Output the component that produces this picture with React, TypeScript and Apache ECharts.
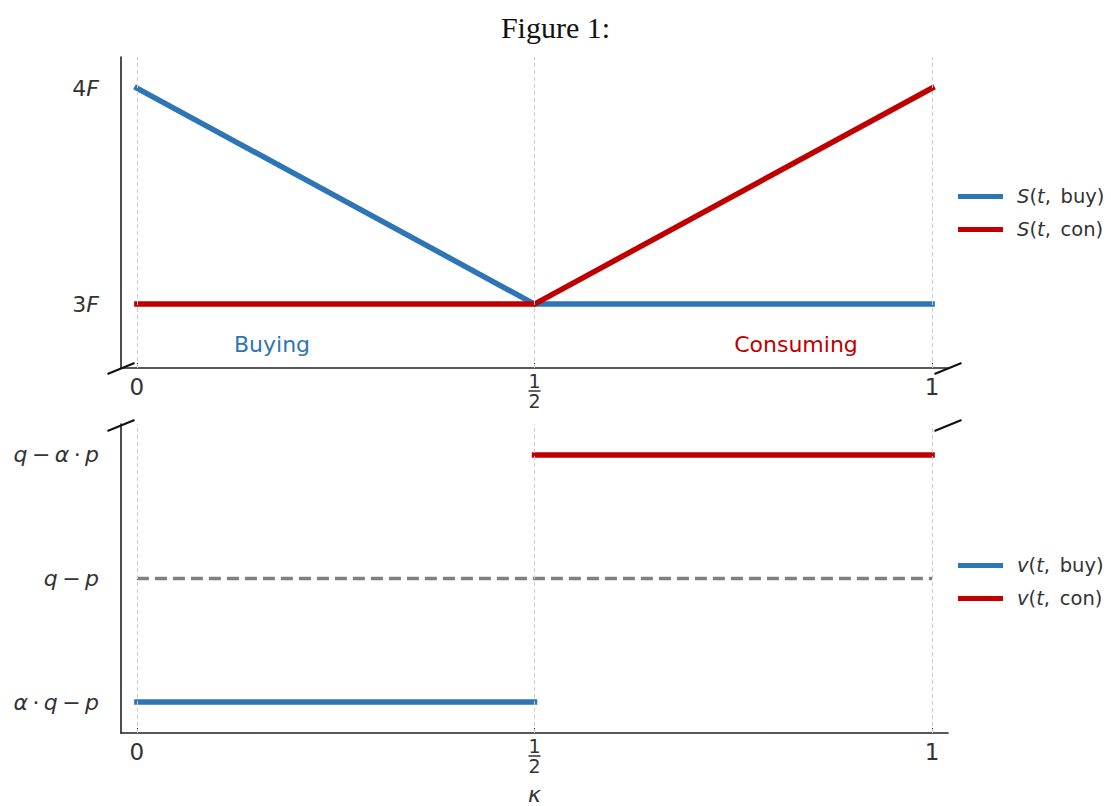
import React, { useEffect, useRef } from "react";
import * as echarts from "echarts";

// ---- data ----
const xTicks = [0, 0.5, 1];
const topYTicks = [3, 4];
const bottomYTicks = [0, 1, 2];
const topYLabels: Record<number, string> = { 3: "{r|3}{i|F}", 4: "{r|4}{i|F}" };
const bottomYLabels: Record<number, string> = {
  0: "{i|α}{r|\u2009·\u2009}{i|q}{r|\u2009−\u2009}{i|p}",
  1: "{i|q}{r|\u2009−\u2009}{i|p}",
  2: "{i|q}{r|\u2009−\u2009}{i|α}{r|\u2009·\u2009}{i|p}",
};
const sBuy = [[0, 4], [0.5, 3], [1, 3]];
const sCon = [[0, 3], [0.5, 3], [1, 4]];
const vBuy = [[0, 0], [0.5, 0]];
const vCon = [[0.5, 2], [1, 2]];
const vRef = [[0, 1], [1, 1]];
const legendLabels: Record<string, string> = {
  "S(t, buy)": "{i|S}(" + "{i|t},\u2002buy)",
  "S(t, con)": "{i|S}(" + "{i|t},\u2002con)",
  "v(t, buy)": "{i|v}(" + "{i|t},\u2002buy)",
  "v(t, con)": "{i|v}(" + "{i|t},\u2002con)",
};

const BLUE = "#2e75b6";
const RED = "#c00000";
const GRAY = "#808080";
const TXT = "#333333";
const FONT = "DejaVu Sans";

const L = 121, R = 948;
const T1 = 57, B1 = 368;
const T2 = 424, B2 = 737;

const xLabelFmt = (v: number) =>
  v === 0.5 ? "{n|1}\n{bar|}\n{n|2}" : "{m|" + v + "}";

const xLabelRich = {
  n: { fontSize: 19, lineHeight: 14, color: TXT, fontFamily: FONT, align: "center" },
  bar: { width: 12, height: 1.5, backgroundColor: TXT, lineHeight: 6, align: "center" },
  m: { fontSize: 23, lineHeight: 26, color: TXT, fontFamily: FONT },
};
const yRich = {
  i: { fontStyle: "italic", fontSize: 22, color: TXT, fontFamily: FONT },
  r: { fontSize: 22, color: TXT, fontFamily: FONT },
};

function xAxis(gridIndex: number) {
  return {
    type: "value",
    gridIndex,
    min: -0.02,
    max: 1.02,
    axisLine: { show: true, onZero: false, lineStyle: { color: "#222", width: 1.6 } },
    axisTick: { show: true, inside: true, length: 5, customValues: xTicks, lineStyle: { color: "#222" } },
    axisLabel: {
      show: true,
      customValues: xTicks,
      formatter: xLabelFmt,
      rich: xLabelRich,
      margin: 6,
      verticalAlign: "top",
    },
    splitLine: { show: false },
  };
}

function yAxis(gridIndex: number, min: number, max: number, ticks: number[], labels: Record<number, string>) {
  return {
    type: "value",
    gridIndex,
    min,
    max,
    axisLine: { show: true, onZero: false, lineStyle: { color: "#222", width: 1.6 } },
    axisTick: { show: false },
    splitLine: { show: false },
    axisLabel: {
      customValues: ticks,
      formatter: (v: number) => labels[v] ?? "",
      rich: yRich,
      fontSize: 22,
      margin: 22,
    },
  };
}

function vGrid() {
  return {
    silent: true,
    symbol: "none",
    label: { show: false },
    lineStyle: { color: "#cccccc", type: [4, 3], width: 1 },
    data: xTicks.map((x) => ({ xAxis: x })),
  };
}

function breakMark(x: number, y: number) {
  return {
    type: "line",
    shape: { x1: x - 13.5, y1: y + 5.5, x2: x + 13.5, y2: y - 5.5 },
    style: { stroke: "#111", lineWidth: 2 },
    z: 100,
  };
}

function legend(names: string[], top: number) {
  return {
    data: names,
    orient: "vertical",
    left: 953,
    top,
    icon: "rect",
    itemWidth: 45,
    itemHeight: 5,
    itemGap: 10,
    formatter: (n: string) => legendLabels[n] ?? n,
    textStyle: {
      fontSize: 19.5,
      color: TXT,
      fontFamily: FONT,
      padding: [0, 0, 0, 9],
      lineHeight: 23,
      rich: {
        i: { fontStyle: "italic", fontSize: 19.5, color: TXT, fontFamily: FONT, lineHeight: 23 },
      },
    },
  };
}

function lineSeries(name: string, xi: number, data: number[][], color: string, extra: any = {}) {
  return {
    name,
    type: "line",
    xAxisIndex: xi,
    yAxisIndex: xi,
    data,
    symbol: "none",
    color,
    lineStyle: { width: 5.5, color, cap: "square" },
    ...extra,
  };
}

export default function App() {
  const ref = useRef<HTMLDivElement>(null);
  useEffect(() => {
    const chart = echarts.init(ref.current!, null, { renderer: "svg" });
    chart.setOption({
      animation: false,
      backgroundColor: "#ffffff",
      title: {
        text: "Figure 1:",
        left: "center",
        top: 7,
        textStyle: { fontFamily: "Liberation Serif", fontSize: 30, fontWeight: "normal", color: "#111" },
      },
      grid: [
        { left: L, top: T1, width: R - L, height: B1 - T1 },
        { left: L, top: T2, width: R - L, height: B2 - T2 },
      ],
      xAxis: [
        xAxis(0),
        {
          ...xAxis(1),
          name: "κ",
          nameLocation: "middle",
          nameGap: 50,
          nameTextStyle: { fontStyle: "italic", fontSize: 22, color: TXT, fontFamily: FONT },
        },
      ],
      yAxis: [
        yAxis(0, 2.704, 4.144, topYTicks, topYLabels),
        yAxis(1, -0.25, 2.25, bottomYTicks, bottomYLabels),
      ],
      legend: [
        legend(["S(t, buy)", "S(t, con)"], 180),
        legend(["v(t, buy)", "v(t, con)"], 549),
      ],
      series: [
        lineSeries("S(t, buy)", 0, sBuy, BLUE, { markLine: vGrid() }),
        lineSeries("S(t, con)", 0, sCon, RED),
        {
          name: "ref",
          type: "line",
          xAxisIndex: 1,
          yAxisIndex: 1,
          data: vRef,
          symbol: "none",
          color: GRAY,
          lineStyle: { width: 3.5, color: GRAY, type: [12, 6] },
          markLine: vGrid(),
        },
        lineSeries("v(t, buy)", 1, vBuy, BLUE),
        lineSeries("v(t, con)", 1, vCon, RED),
      ],
      graphic: [
        {
          type: "text",
          x: 272,
          y: 344,
          style: { text: "Buying", fill: BLUE, fontSize: 22, fontFamily: FONT, align: "center", verticalAlign: "middle" },
        },
        {
          type: "text",
          x: 796,
          y: 344,
          style: { text: "Consuming", fill: RED, fontSize: 22, fontFamily: FONT, align: "center", verticalAlign: "middle" },
        },
        breakMark(L, B1 + 0.5),
        breakMark(R, B1 + 0.5),
        breakMark(L, T2 + 1.5),
        breakMark(R, T2 + 1.5),
      ],
    });
    return () => chart.dispose();
  }, []);
  return <div ref={ref} style={{ width: 1111, height: 806, position: "absolute", left: 0, top: 0 }} />;
}
